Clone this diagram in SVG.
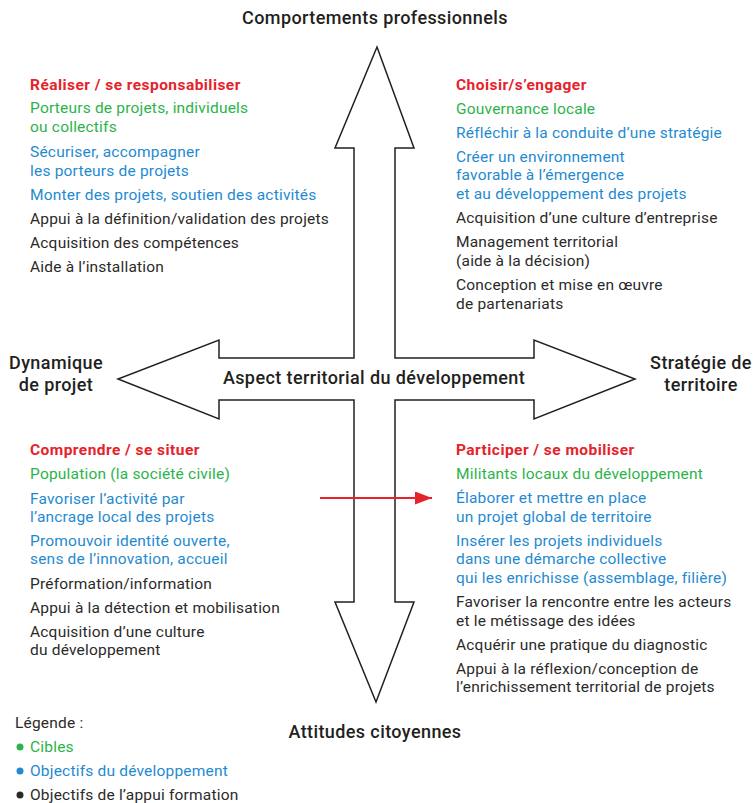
<svg xmlns="http://www.w3.org/2000/svg" width="754" height="803" viewBox="0 0 754 803">
<style>
text{font-family:Roboto,"Liberation Sans",sans-serif;font-size:15.5px;letter-spacing:0.2px;}
.ax{font-size:18px;font-weight:500;fill:#231f20;text-anchor:middle;letter-spacing:0.4px;}
.hd{font-weight:700;fill:#e5232b;letter-spacing:0.45px;}
.g{fill:#2cb34a;}
.b{fill:#1f8ad1;}
.k{fill:#2b2a29;}
.cross{fill:#fff;stroke:#231f20;stroke-width:1.5;stroke-linejoin:miter;}
</style>
<defs>
<marker id="ar" viewBox="0 0 17 13" refX="17" refY="6.5" markerWidth="17" markerHeight="13" markerUnits="userSpaceOnUse" orient="auto">
<path d="M0,0 L17,6.5 L0,13 z" fill="#e5232b"/>
</marker>
</defs>
<g id="cross">
<polygon class="cross" points="377,47 414,148 395,148 395,358 534,358 534,340 635,379 534,419 534,400 395,400 395,602 414,602 376,702 335,602 354,602 354,400 219,400 219,419 118,379 219,340 219,358 354,358 354,148 335,148"/>
</g>
<g id="axis-top"><text class="ax" x="375" y="24">Comportements professionnels</text></g>
<g id="axis-left"><text class="ax" x="56" y="369">Dynamique</text><text class="ax" x="56" y="391">de projet</text></g>
<g id="axis-right"><text class="ax" x="701" y="369">Stratégie de</text><text class="ax" x="701" y="391">territoire</text></g>
<g id="axis-bottom"><text class="ax" x="375" y="738">Attitudes citoyennes</text></g>
<g id="center"><text class="ax" x="374" y="384">Aspect territorial du développement</text></g>
<g id="q-top-left">
<text class="hd" x="30" y="90">Réaliser / se responsabiliser</text>
<text class="g" x="30" y="113">Porteurs de projets, individuels</text>
<text class="g" x="30" y="132">ou collectifs</text>
<text class="b" x="30" y="157">Sécuriser, accompagner</text>
<text class="b" x="30" y="175.5">les porteurs de projets</text>
<text class="b" x="30" y="199.5">Monter des projets, soutien des activités</text>
<text class="k" x="30" y="223.5">Appui à la définition/validation des projets</text>
<text class="k" x="30" y="247.5">Acquisition des compétences</text>
<text class="k" x="30" y="271.5">Aide à l’installation</text>
</g>
<g id="q-top-right">
<text class="hd" x="456" y="90">Choisir/s’engager</text>
<text class="g" x="456" y="113.5">Gouvernance locale</text>
<text class="b" x="456" y="137.5">Réfléchir à la conduite d’une stratégie</text>
<text class="b" x="456" y="161.5">Créer un environnement</text>
<text class="b" x="456" y="180">favorable à l’émergence</text>
<text class="b" x="456" y="199">et au développement des projets</text>
<text class="k" x="456" y="223">Acquisition d’une culture d’entreprise</text>
<text class="k" x="456" y="247">Management territorial</text>
<text class="k" x="456" y="265.5">(aide à la décision)</text>
<text class="k" x="456" y="290">Conception et mise en œuvre</text>
<text class="k" x="456" y="308.5">de partenariats</text>
</g>
<g id="q-bottom-left">
<text class="hd" x="30" y="455">Comprendre / se situer</text>
<text class="g" x="30" y="479">Population (la société civile)</text>
<text class="b" x="30" y="503.5">Favoriser l’activité par</text>
<text class="b" x="30" y="521.5">l’ancrage local des projets</text>
<text class="b" x="30" y="545.5">Promouvoir identité ouverte,</text>
<text class="b" x="30" y="564">sens de l’innovation, accueil</text>
<text class="k" x="30" y="588.5">Préformation/information</text>
<text class="k" x="30" y="612.5">Appui à la détection et mobilisation</text>
<text class="k" x="30" y="636.5">Acquisition d’une culture</text>
<text class="k" x="30" y="655">du développement</text>
</g>
<g id="q-bottom-right">
<text class="hd" x="456" y="455">Participer / se mobiliser</text>
<text class="g" x="456" y="479">Militants locaux du développement</text>
<text class="b" x="456" y="503">Élaborer et mettre en place</text>
<text class="b" x="456" y="521.5">un projet global de territoire</text>
<text class="b" x="456" y="545.5">Insérer les projets individuels</text>
<text class="b" x="456" y="564">dans une démarche collective</text>
<text class="b" x="456" y="582.5">qui les enrichisse (assemblage, filière)</text>
<text class="k" x="456" y="606.5">Favoriser la rencontre entre les acteurs</text>
<text class="k" x="456" y="625.5">et le métissage des idées</text>
<text class="k" x="456" y="649.5">Acquérir une pratique du diagnostic</text>
<text class="k" x="456" y="673.5">Appui à la réflexion/conception de</text>
<text class="k" x="456" y="691.5">l’enrichissement territorial de projets</text>
</g>
<g id="legend">
<text class="k" x="15" y="728">Légende :</text>
<circle cx="20" cy="747" r="3.5" fill="#2cb34a"/>
<text class="g" x="30" y="752">Cibles</text>
<circle cx="20" cy="771" r="3.5" fill="#1f8ad1"/>
<text class="b" x="30" y="776">Objectifs du développement</text>
<circle cx="20" cy="795" r="3.5" fill="#2b2a29"/>
<text class="k" x="30" y="799.5">Objectifs de l’appui formation</text>
</g>
<g id="connectors">
<line x1="320" y1="498" x2="432" y2="498" stroke="#e5232b" stroke-width="2" marker-end="url(#ar)"/>
</g>
</svg>
